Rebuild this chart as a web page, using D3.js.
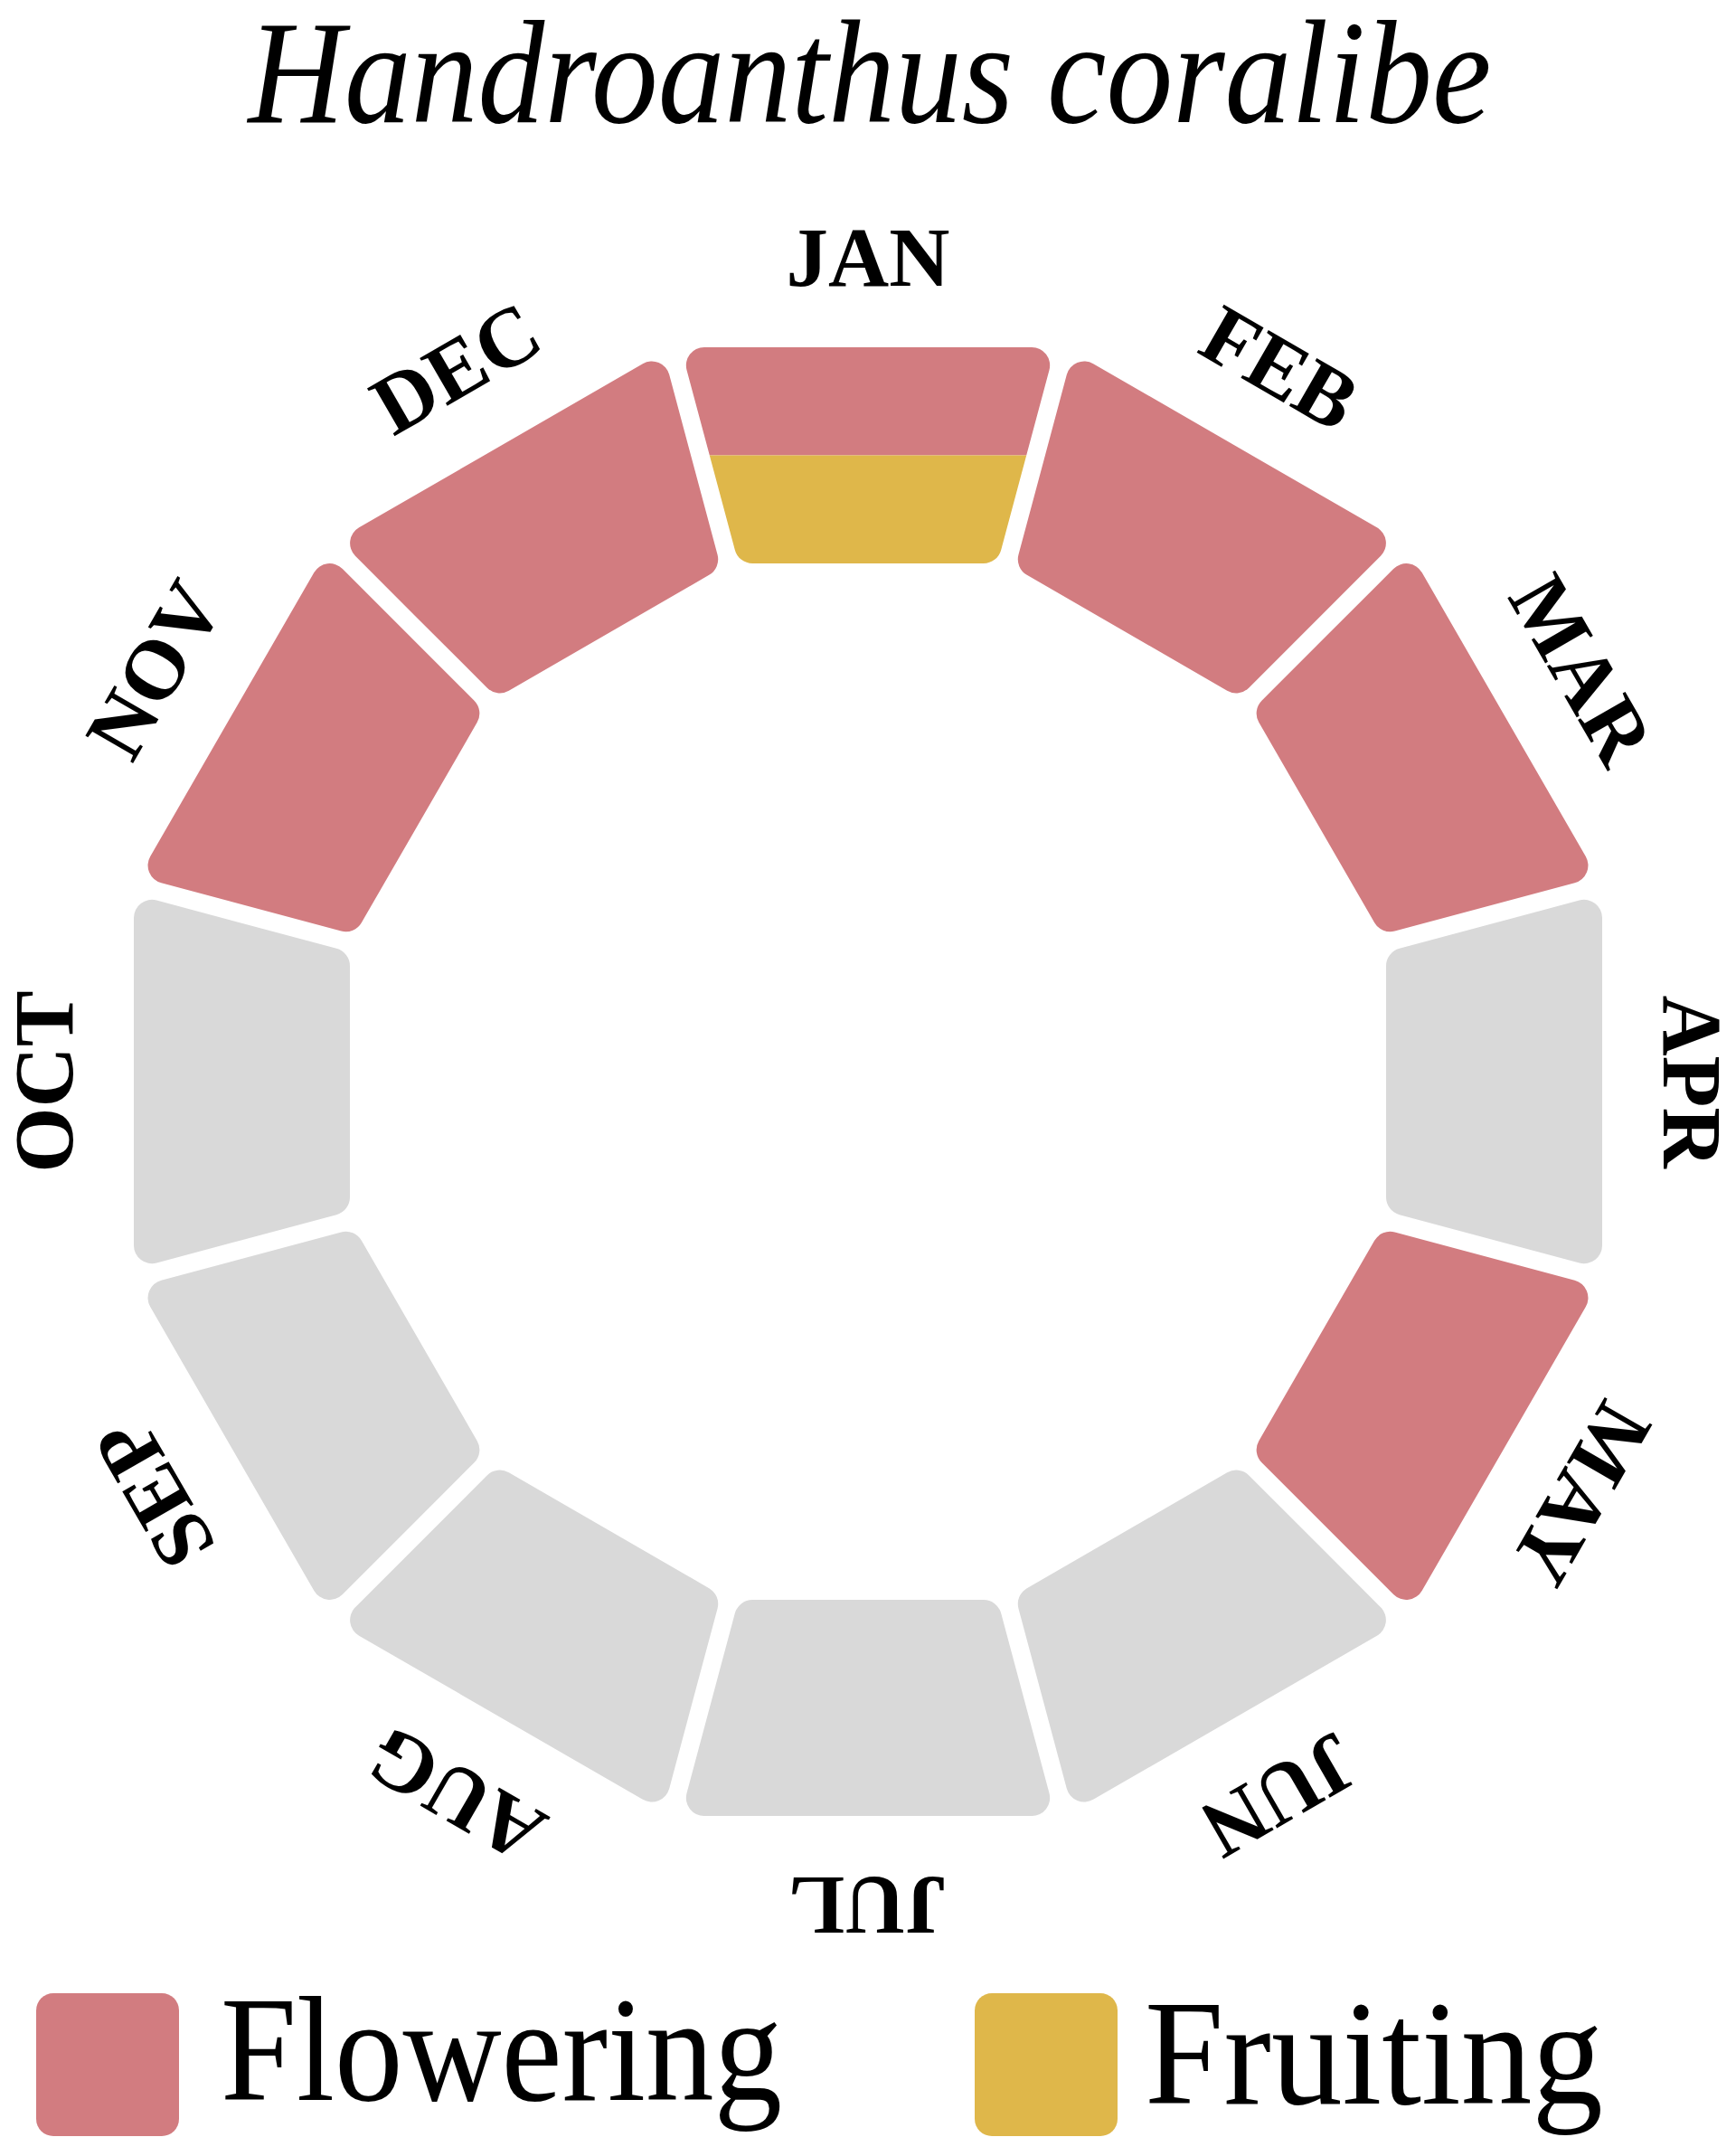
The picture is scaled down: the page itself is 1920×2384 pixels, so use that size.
<!DOCTYPE html>
<html>
<head>
<meta charset="utf-8">
<script src="https://cdn.jsdelivr.net/npm/d3@7"></script>
<style>
  html, body { margin: 0; padding: 0; background: #ffffff; }
  svg { display: block; }
</style>
</head>
<body>
<script>
// ---- data ----
const title = "Handroanthus coralibe";
const months = ["JAN","FEB","MAR","APR","MAY","JUN","JUL","AUG","SEP","OCT","NOV","DEC"];
const flowering = [1,1,1,0,1,0,0,0,0,0,1,1];
const fruiting  = [1,0,0,0,0,0,0,0,0,0,0,0];
const legendLabels = ["Flowering","Fruiting"];

// ---- styles ----
const colFlower = "#D27C80", colFruit = "#DFB74A", colNone = "#D9D9D9";
const W = 1920, H = 2384;
const cx = 960, cy = 1196;
const Ro = 812, Ri = 573, gap = 20, corner = 20;
const labelR = 880;

const svg = d3.select("body").append("svg").attr("width", W).attr("height", H);
svg.append("rect").attr("width", W).attr("height", H).attr("fill", "#fff");

const xs = d3.scaleLinear().domain([-1000, 1000]).range([cx - 1000, cx + 1000]);
const ys = d3.scaleLinear().domain([-1000, 1000]).range([cy - 1000, cy + 1000]);
const angle = d3.scaleLinear().domain([0, months.length]).range([0, 2 * Math.PI]);
const radius = d3.scaleLinear().domain([0, 1]).range([Ri, Ro]);

const half = (angle(1) - angle(0)) / 2;
function toXY(a, u, v) {
  // u: along radial direction, v: tangential
  const dx = Math.sin(a), dy = -Math.cos(a);
  const tx = Math.cos(a), ty = Math.sin(a);
  return [xs(u * dx + v * tx), ys(u * dy + v * ty)];
}
function halfWidth(u) { return u * Math.tan(half) - (gap / 2) / Math.cos(half); }

function roundedPath(pts, r) {
  const p = d3.path();
  const n = pts.length;
  const m = [(pts[n - 1][0] + pts[0][0]) / 2, (pts[n - 1][1] + pts[0][1]) / 2];
  p.moveTo(m[0], m[1]);
  for (let i = 0; i < n; i++) {
    const a = pts[i], b = pts[(i + 1) % n];
    p.arcTo(a[0], a[1], b[0], b[1], r);
  }
  p.closePath();
  return p.toString();
}
function segPoints(a, u0, u1) {
  return [toXY(a, u1, -halfWidth(u1)), toXY(a, u1, halfWidth(u1)),
          toXY(a, u0, halfWidth(u0)), toXY(a, u0, -halfWidth(u0))];
}
function bandPoints(a, u0, u1) {
  const w = Ro;
  return [toXY(a, u1, -w), toXY(a, u1, w), toXY(a, u0, w), toXY(a, u0, -w)];
}

const defs = svg.append("defs");
const gSeg = svg.append("g");

months.forEach((m, i) => {
  const a = angle(i);
  const shape = roundedPath(segPoints(a, radius(0), radius(1)), corner);
  const f = flowering[i], fr = fruiting[i];
  if (f && fr) {
    const id = "clip" + i;
    defs.append("clipPath").attr("id", id).append("path").attr("d", shape);
    const g = gSeg.append("g").attr("clip-path", `url(#${id})`);
    g.append("path").attr("d", d3.line()(bandPoints(a, radius(0.5), radius(1) + 10))).attr("fill", colFlower);
    g.append("path").attr("d", d3.line()(bandPoints(a, radius(0) - 10, radius(0.5)))).attr("fill", colFruit);
  } else {
    gSeg.append("path").attr("d", shape)
      .attr("fill", f ? colFlower : (fr ? colFruit : colNone));
  }
});

// month labels
svg.append("g").selectAll("text").data(months).join("text")
  .attr("transform", (d, i) => `translate(${xs(0)},${ys(0)}) rotate(${angle(i) * 180 / Math.PI}) translate(0,${-labelR})`)
  .attr("text-anchor", "middle")
  .attr("font-family", "'Liberation Serif', serif")
  .attr("font-weight", "bold")
  .attr("font-size", 93)
  .attr("fill", "#000")
  .text(d => d);

// title
svg.append("text")
  .attr("x", 962).attr("y", 135)
  .attr("text-anchor", "middle")
  .attr("font-family", "'Liberation Serif', serif")
  .attr("font-style", "italic")
  .attr("font-size", 163)
  .attr("textLength", 1375)
  .attr("lengthAdjust", "spacingAndGlyphs")
  .attr("fill", "#000")
  .text(title);

// legend
const legendItems = [
  {label: legendLabels[0], color: colFlower, sx: 40, tx: 244, base: 2322, len: 621},
  {label: legendLabels[1], color: colFruit, sx: 1078, tx: 1266, base: 2326, len: 507}
];
const lg = svg.append("g");
legendItems.forEach(d => {
  lg.append("rect").attr("x", d.sx).attr("y", 2204).attr("width", 158).attr("height", 158)
    .attr("rx", 19).attr("fill", d.color);
  lg.append("text").attr("x", d.tx).attr("y", d.base)
    .attr("font-family", "'Liberation Serif', serif")
    .attr("font-size", 165)
    .attr("textLength", d.len)
    .attr("lengthAdjust", "spacingAndGlyphs")
    .attr("fill", "#000")
    .text(d.label);
});
</script>
</body>
</html>
